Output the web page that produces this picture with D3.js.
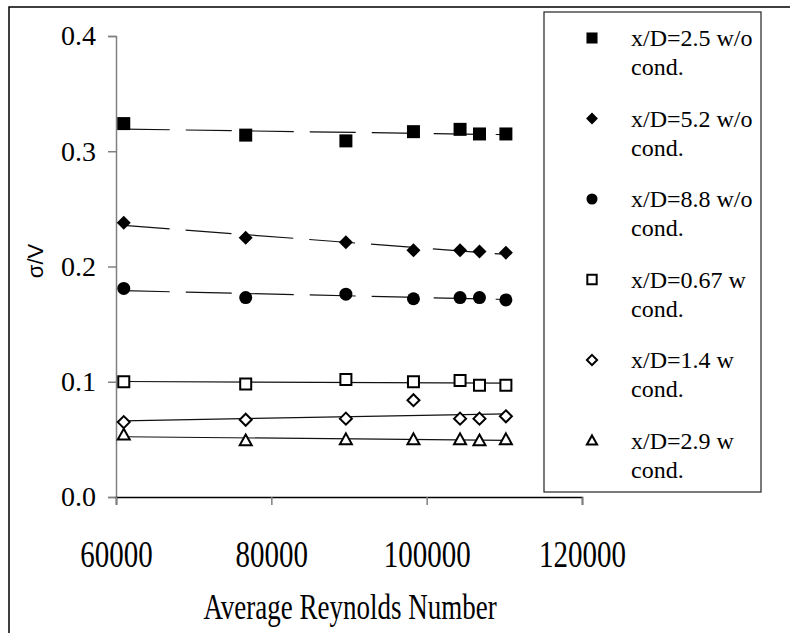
<!DOCTYPE html>
<html>
<head>
<meta charset="utf-8">
<script src="https://cdn.jsdelivr.net/npm/d3@7"></script>
<style>
  body { margin: 0; background: #fff; }
</style>
</head>
<body>
<div id="chart"></div>
<script>
// data
let reynolds = [61000, 76700, 89600, 98300, 104300, 106800, 110200];
let s25 = [0.324, 0.314, 0.309, 0.317, 0.319, 0.315, 0.315];
let s52 = [0.238, 0.225, 0.221, 0.214, 0.214, 0.213, 0.212];
let s88 = [0.181, 0.173, 0.176, 0.172, 0.173, 0.173, 0.171];
let s067 = [0.100, 0.098, 0.102, 0.100, 0.101, 0.097, 0.097];
let s14 = [0.065, 0.067, 0.068, 0.084, 0.068, 0.068, 0.070];
let s29 = [0.054, 0.049, 0.050, 0.050, 0.050, 0.049, 0.050];
let seriesNames = ["x/D=2.5 w/o cond.", "x/D=5.2 w/o cond.", "x/D=8.8 w/o cond.",
                   "x/D=0.67 w cond.", "x/D=1.4 w cond.", "x/D=2.9 w cond."];
let xTicks = [60000, 80000, 100000, 120000];
let yTicks = [0, 0.1, 0.2, 0.3, 0.4];

let serif = "Tinos, 'Times New Roman', Times, 'Nimbus Roman', 'Nimbus Roman No9 L', FreeSerif, 'Noto Serif', 'DejaVu Serif', 'Liberation Serif', serif";
let W = 790, H = 633;
let svg = d3.select("#chart").append("svg").attr("width", W).attr("height", H);

// outer frame (right and bottom run off the picture)
svg.append("rect").attr("x", 9).attr("y", 7).attr("width", 900).attr("height", 900)
   .attr("fill", "none").attr("stroke", "#000").attr("stroke-width", 1.5);

let x = d3.scaleLinear().domain([60000, 120000]).range([116, 582]);
let y = d3.scaleLinear().domain([0, 0.4]).range([497, 36]);

// y axis
let yAxis = svg.append("g").attr("transform", "translate(116,0)")
  .call(d3.axisLeft(y).tickValues(yTicks).tickFormat(d3.format(".1f")).tickSize(8).tickPadding(12));
yAxis.attr("font-family", null).attr("font-size", null);
yAxis.select(".domain").attr("stroke", "#808080").attr("stroke-width", 1.5);
yAxis.selectAll(".tick line").attr("stroke", "#808080").attr("stroke-width", 1.5);
yAxis.selectAll(".tick text").style("font-family", serif).style("font-size", "28px").attr("fill", "#000");

// x axis
let xAxis = svg.append("g").attr("transform", "translate(0,497)")
  .call(d3.axisBottom(x).tickValues(xTicks).tickFormat(d3.format("d")).tickSizeOuter(0).tickSize(8));
xAxis.attr("font-family", null).attr("font-size", null);
xAxis.select(".domain").attr("stroke", "#000").attr("stroke-width", 1.5);
xAxis.selectAll(".tick line").attr("stroke", "#808080").attr("stroke-width", 1.5);
xAxis.selectAll(".tick text").remove();
xAxis.selectAll(".tick").append("text")
  .attr("transform", "translate(0,57) scale(1,1.3)")
  .attr("text-anchor", "middle").attr("dominant-baseline", "central").attr("fill", "#000")
  .style("font-family", serif).style("font-size", "29px")
  .text(d => d3.format("d")(d));

// axis titles
svg.append("text").attr("transform", "translate(350,607) scale(1,1.3)")
  .attr("text-anchor", "middle").attr("dominant-baseline", "central")
  .style("font-family", serif).style("font-size", "27px").text("Average Reynolds Number");
svg.append("text").attr("transform", "translate(35,261) rotate(-90)")
  .attr("text-anchor", "middle").attr("dominant-baseline", "central")
  .style("font-family", "'Liberation Sans', Arial, sans-serif")
  .style("font-size", "22px").text("σ/V");

// marker shapes, r = half size
function markerPath(kind, r) {
  if (kind === "square") return `M${-r},${-r}H${r}V${r}H${-r}Z`;
  if (kind === "diamond") return `M0,${-r}L${r},0L0,${r}L${-r},0Z`;
  if (kind === "circle") return `M${r},0A${r},${r} 0 1,1 ${-r},0A${r},${r} 0 1,1 ${r},0Z`;
  if (kind === "triangle") return `M0,${-r}L${r},${r * 0.8}L${-r},${r * 0.8}Z`;
}

let series = [
  {vals: s25, kind: "square", filled: true, r: 6.5, dashed: true},
  {vals: s52, kind: "diamond", filled: true, r: 7, dashed: true},
  {vals: s88, kind: "circle", filled: true, r: 6.5, dashed: true},
  {vals: s067, kind: "square", filled: false, r: 5.5, dashed: false},
  {vals: s14, kind: "diamond", filled: false, r: 6, dashed: false},
  {vals: s29, kind: "triangle", filled: false, r: 6, dashed: false}
];

// least squares trend line
function fit(xs, ys) {
  let mx = d3.mean(xs), my = d3.mean(ys);
  let sxy = d3.sum(xs, (v, i) => (v - mx) * (ys[i] - my));
  let sxx = d3.sum(xs, v => (v - mx) * (v - mx));
  let b = sxy / sxx;
  return v => my + b * (v - mx);
}

let line = d3.line().x(d => x(d[0])).y(d => y(d[1]));
series.forEach(s => {
  let f = fit(reynolds, s.vals);
  let ends = d3.extent(reynolds);
  svg.append("path").attr("d", line(ends.map(v => [v, f(v)])))
    .attr("fill", "none").attr("stroke", "#111").attr("stroke-width", 1.2)
    .attr("stroke-dasharray", s.dashed ? "46,16" : null);
});

series.forEach(s => {
  svg.append("g").selectAll("path").data(reynolds).enter().append("path")
    .attr("transform", (d, i) => `translate(${x(d)},${y(s.vals[i])})`)
    .attr("d", markerPath(s.kind, s.r))
    .attr("fill", s.filled ? "#000" : "#fff")
    .attr("stroke", "#000").attr("stroke-width", s.filled ? 0 : 2);
});

// legend
let legend = svg.append("g");
legend.append("rect").attr("x", 544).attr("y", 12).attr("width", 217).attr("height", 480)
  .attr("fill", "#fff").attr("stroke", "#222").attr("stroke-width", 1.2);
series.forEach((s, i) => {
  let cy = 38 + i * 80.5;
  legend.append("path").attr("transform", `translate(592,${cy})`)
    .attr("d", markerPath(s.kind, s.r * 0.85))
    .attr("fill", s.filled ? "#000" : "#fff")
    .attr("stroke", "#000").attr("stroke-width", s.filled ? 0 : 2);
  let parts = seriesNames[i].split(" cond.");
  legend.append("text").attr("x", 631).attr("y", cy).attr("dominant-baseline", "central")
    .style("font-family", serif).style("font-size", "24px").text(parts[0]);
  legend.append("text").attr("x", 631).attr("y", cy + 29).attr("dominant-baseline", "central")
    .style("font-family", serif).style("font-size", "24px").text("cond.");
});
</script>
</body>
</html>
